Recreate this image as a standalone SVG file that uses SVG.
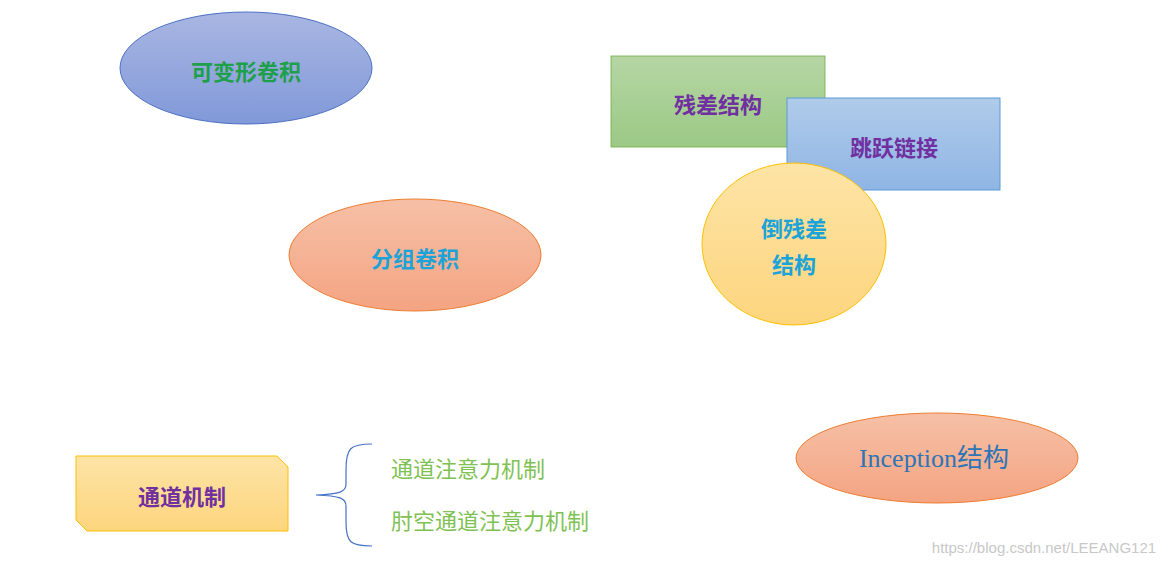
<svg xmlns="http://www.w3.org/2000/svg" width="1171" height="565" viewBox="0 0 1171 565">
<defs>
<linearGradient id="gBlue" x1="0" y1="0" x2="0" y2="1"><stop offset="0" stop-color="#a9b6e2"/><stop offset="1" stop-color="#8199d9"/></linearGradient>
<linearGradient id="gOr" x1="0" y1="0" x2="0" y2="1"><stop offset="0" stop-color="#f6c0a6"/><stop offset="1" stop-color="#f4a482"/></linearGradient>
<linearGradient id="gGr" x1="0" y1="0" x2="0" y2="1"><stop offset="0" stop-color="#b5d6a4"/><stop offset="1" stop-color="#9bc985"/></linearGradient>
<linearGradient id="gSky" x1="0" y1="0" x2="0" y2="1"><stop offset="0" stop-color="#b0cbea"/><stop offset="1" stop-color="#8fb5e4"/></linearGradient>
<linearGradient id="gY" x1="0" y1="0" x2="0" y2="1"><stop offset="0" stop-color="#fde4a6"/><stop offset="1" stop-color="#fdd57e"/></linearGradient>
</defs>
<style>
text{font-family:"Noto Sans CJK SC","Liberation Serif",serif;text-anchor:middle;dominant-baseline:central}
.b{font-weight:bold;font-size:22px}
.g{font-size:22px;fill:#7fc253;text-anchor:start}
</style>
<rect width="1171" height="565" fill="#fff"/>
<g id="n1"><ellipse cx="246" cy="68" rx="126" ry="56" fill="url(#gBlue)" stroke="#4b70c4"/><text class="b" x="246" y="70" fill="#1ea04a">可变形卷积</text></g>
<g id="n2"><ellipse cx="415" cy="255" rx="126" ry="56" fill="url(#gOr)" stroke="#ed7d31"/><text class="b" x="415" y="257" fill="#1ca3d8">分组卷积</text></g>
<g id="n3"><rect x="611" y="56" width="214" height="91" fill="url(#gGr)" stroke="#70ad47" stroke-width="0.8"/><text class="b" x="718" y="103" fill="#7030a0">残差结构</text></g>
<g id="n4"><rect x="787" y="98" width="213" height="92" fill="url(#gSky)" stroke="#5b9bd5"/><text class="b" x="894" y="146" fill="#7030a0">跳跃链接</text></g>
<g id="n5"><ellipse cx="794" cy="244" rx="92" ry="81" fill="url(#gY)" stroke="#ffc000"/><text class="b" x="794" y="227" fill="#1ca3d8">倒残差</text><text class="b" x="794" y="263" fill="#1ca3d8">结构</text></g>
<g id="n6"><ellipse cx="937" cy="458" rx="141" ry="45" fill="url(#gOr)" stroke="#ed7d31"/><text x="934" y="458" font-size="26" fill="#2e75b6" style="font-family:'Liberation Serif','Noto Sans CJK SC',serif">Inception结构</text></g>
<g id="n7"><path d="M76,456 H277 L288,467 V531 H87 L76,520 Z" fill="url(#gY)" stroke="#ffc000"/><text class="b" x="182" y="495" fill="#7030a0">通道机制</text></g>
<g id="connectors"><path d="M372,444 C350,444 346,448 346,470 V484 C346,492 340,494 316,495 C340,496 346,498 346,506 V522 C346,542 350,546 372,546" fill="none" stroke="#4472c4" stroke-width="1.2"/></g>
<text class="g" x="391" y="467">通道注意力机制</text>
<text class="g" x="391" y="519">肘空通道注意力机制</text>
<text x="1044" y="547" font-size="15" fill="#c8c8c8" style="font-family:'Liberation Sans',sans-serif">https://blog.csdn.net/LEEANG121</text>
</svg>
